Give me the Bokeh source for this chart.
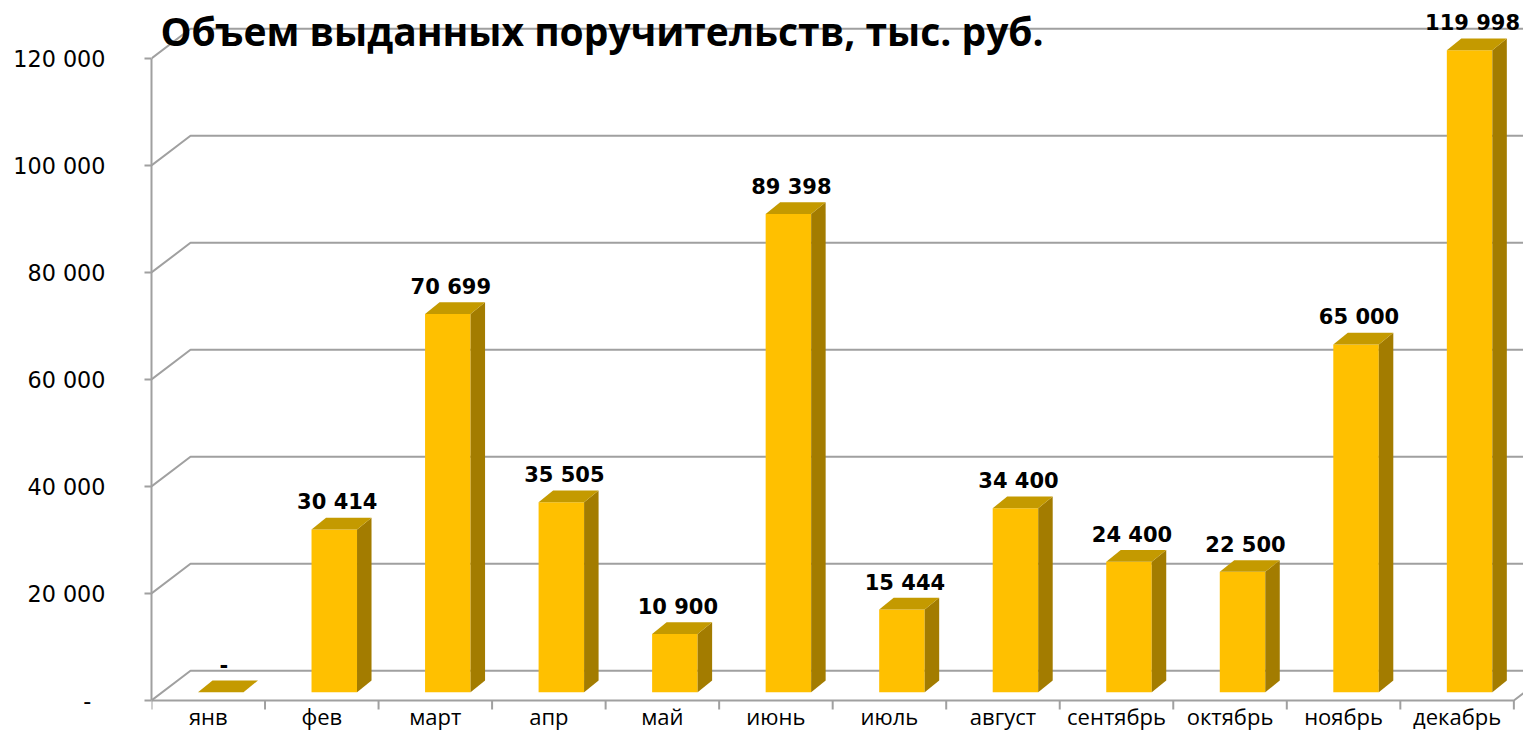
from bokeh.plotting import figure
from bokeh.models import Range1d, LinearAxis, FixedTicker, Label, ColumnDataSource
from bokeh.core.properties import value
from bokeh.embed import file_html
from bokeh.resources import INLINE

# ---------------- data ----------------
TITLE = "Объем выданных поручительств, тыс. руб."
months = ["янв", "фев", "март", "апр", "май", "июнь", "июль",
          "август", "сентябрь", "октябрь", "ноябрь", "декабрь"]
volumes = [0, 30414, 70699, 35505, 10900, 89398, 15444,
           34400, 24400, 22500, 65000, 119998]
y_ticks = [0, 20000, 40000, 60000, 80000, 100000, 120000]
y_tick_labels = ["-", "20 000", "40 000", "60 000", "80 000", "100 000", "120 000"]

# ---------------- geometry (pixel -> data helpers) ----------------
W, H = 1523, 730
LEFT = 151               # front vertical axis position
FLOOR = 700              # pixel row of the front floor edge (value 0)
PX_X = 113.53            # pixels per category
PX_Y = 107.0 / 20000     # pixels per unit of value


def ux(px):
    return px / PX_X


def uy(px):
    return px / PX_Y


x_end = ux(W - LEFT)
y_start, y_end = -uy(H - FLOOR), uy(FLOOR)

GDX, GDY = ux(39), uy(29.7)        # depth of wall/floor
B_LEFT, B_W = ux(46.5), ux(45.5)   # bar front face inside category
B_BASE = uy(8.3)                   # bar front baseline above floor edge
BDX, BDY = ux(14.5), uy(11.7)      # bar depth

FRONT = "#FFC000"
TOP = "#C49A00"
SIDE = "#A37C00"
GRID = "#A0A0A0"

p = figure(width=W, height=H, x_range=Range1d(0, x_end), y_range=Range1d(y_start, y_end),
           output_backend="svg", toolbar_location=None,
           x_axis_type=None, y_axis_type=None,
           min_border_left=LEFT, min_border_right=0, min_border_top=0,
           min_border_bottom=0)
p.outline_line_color = None
p.background_fill_color = "white"
p.border_fill_color = "white"

n = len(months)

# ---------------- walls / floor ----------------
gx, gy = [], []
for v in y_ticks:
    gx.append([0, GDX, x_end + 1])
    gy.append([v, v + GDY, v + GDY])
p.multi_line(gx, gy, line_color=GRID, line_width=2)
# floor front edge, right edge and category ticks
p.line([0, n, n + GDX], [0, 0, GDY], line_color=GRID, line_width=2)
p.segment(x0=list(range(n + 1)), y0=[0] * (n + 1), x1=list(range(n + 1)),
          y1=[-uy(9)] * (n + 1), line_color=GRID, line_width=2)

# ---------------- bars ----------------
lefts = [i + B_LEFT for i in range(n)]
rights = [l + B_W for l in lefts]
bottoms = [B_BASE] * n
tops = [B_BASE + v for v in volumes]

src = ColumnDataSource(dict(left=lefts, right=rights, bottom=bottoms, top=tops))
p.quad(left="left", right="right", bottom="bottom", top="top", source=src,
       fill_color=FRONT, line_color=None)

top_xs, top_ys, side_xs, side_ys = [], [], [], []
for l, r, b, t in zip(lefts, rights, bottoms, tops):
    top_xs.append([l, r, r + BDX, l + BDX])
    top_ys.append([t, t, t + BDY, t + BDY])
    side_xs.append([r, r + BDX, r + BDX, r])
    side_ys.append([b, b + BDY, t + BDY, t])
p.patches(side_xs, side_ys, fill_color=SIDE, line_color=None)
p.patches(top_xs, top_ys, fill_color=TOP, line_color=None)

# ---------------- data labels ----------------
labels = [("-" if v == 0 else f"{v:,}".replace(",", " ")) for v in volumes]
lab_x = [(l + r) / 2 + ux(3) for l, r in zip(lefts, rights)]
lab_y = [t + uy(27) for t in tops]
p.text(x=lab_x, y=lab_y, text=labels, text_font=value("DejaVu Sans"),
       text_font_style="bold", text_font_size="21px", text_color="black",
       text_align="center", text_baseline="alphabetic")

# ---------------- category labels ----------------
centers = [i + 0.5 for i in range(n)]
p.text(x=centers, y=[-uy(15)] * n, text=months, text_font=value("Open Sans"),
       text_font_size="22px", text_color="black",
       text_align="center", text_baseline="alphabetic")

# ---------------- value axis ----------------
yaxis = LinearAxis(ticker=FixedTicker(ticks=y_ticks, minor_ticks=[]),
                   bounds=(0, y_ticks[-1]))
yaxis.major_label_overrides = {t: (lab if t != 0 else lab + "\u2007")
                               for t, lab in zip(y_ticks, y_tick_labels)}
yaxis.axis_line_color = GRID
yaxis.axis_line_width = 2
yaxis.major_tick_line_color = GRID
yaxis.major_tick_line_width = 2
yaxis.major_tick_out = 7
yaxis.major_tick_in = 0
yaxis.minor_tick_line_color = None
yaxis.major_label_standoff = 39
yaxis.major_label_text_font = "DejaVu Sans"
yaxis.major_label_text_font_size = "22.3px"
yaxis.major_label_text_color = "black"
p.add_layout(yaxis, "left")

# ---------------- title ----------------
p.add_layout(Label(x=ux(160 - LEFT), y=uy(FLOOR - 30), text=TITLE,
                   text_font="Open Sans", text_font_style="bold",
                   text_font_size="39px", text_color="black",
                   text_baseline="alphabetic"))

open("out.html", "w").write(file_html(p, INLINE))
